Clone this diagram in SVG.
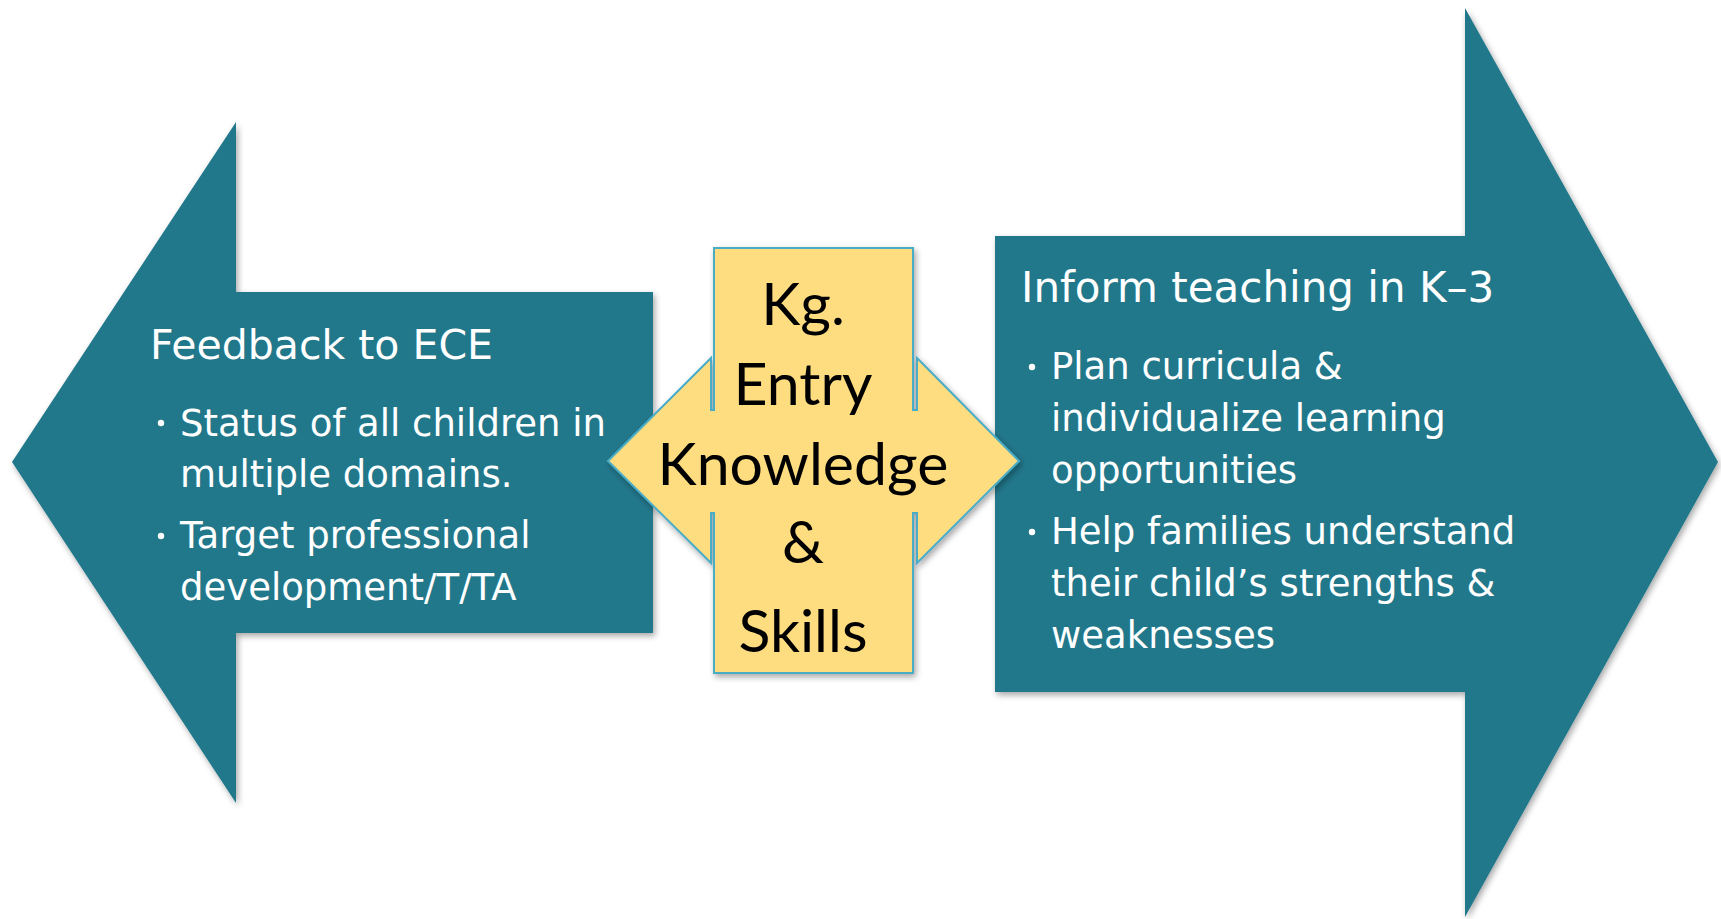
<svg xmlns="http://www.w3.org/2000/svg" width="1721" height="919" viewBox="0 0 1721 919">
  <defs>
    <filter id="shadow" x="-10%" y="-10%" width="120%" height="120%">
      <feDropShadow dx="2" dy="3" stdDeviation="3" flood-color="#000" flood-opacity="0.35"/>
    </filter>
    <style>
      .arrow { fill: #23788b; filter: url(#shadow); }
      .hub { fill: #fedd80; stroke: #4bacc6; stroke-width: 2; filter: url(#shadow); }
      .title { font-family: "DejaVu Sans", "Liberation Sans", sans-serif; font-size: 41px; fill: #ffffff; }
      .item { font-family: "DejaVu Sans", "Liberation Sans", sans-serif; font-size: 37px; fill: #ffffff; }
      .dot { fill: #ffffff; }
      .hubtext { font-family: Lato, "Liberation Sans", sans-serif; font-size: 59px; fill: #000000; text-anchor: middle; }
    </style>
  </defs>

  <rect width="1721" height="919" fill="#ffffff"/>

  <!-- left arrow: feedback to early childhood education -->
  <g id="feedback">
    <path class="arrow" d="M12,462 L236,122 L236,292 L653,292 L653,633 L236,633 L236,803 Z"/>
    <text class="title" x="150" y="359">Feedback to ECE</text>
    <circle class="dot" cx="161" cy="423" r="3.2"/>
    <text class="item" x="180" y="436">Status of all children in</text>
    <text class="item" x="180" y="487">multiple domains.</text>
    <circle class="dot" cx="161" cy="536" r="3.2"/>
    <text class="item" x="180" y="548">Target professional</text>
    <text class="item" x="180" y="600">development/T/TA</text>
  </g>

  <!-- right arrow: inform teaching in K-3 -->
  <g id="inform">
    <path class="arrow" d="M995,236 L1465,236 L1465,8 L1718,462 L1465,917 L1465,692 L995,692 Z"/>
    <text class="title" x="1021" y="302" style="font-size:42px">Inform teaching in K–3</text>
    <circle class="dot" cx="1032" cy="367" r="3.2"/>
    <text class="item" x="1051" y="379">Plan curricula &amp;</text>
    <text class="item" x="1051" y="431">individualize learning</text>
    <text class="item" x="1051" y="483">opportunities</text>
    <circle class="dot" cx="1032" cy="532" r="3.2"/>
    <text class="item" x="1051" y="544">Help families understand</text>
    <text class="item" x="1051" y="596">their child’s strengths &amp;</text>
    <text class="item" x="1051" y="648">weaknesses</text>
  </g>

  <!-- centre: left-right arrow callout -->
  <g id="entry">
    <path class="hub" d="M714,248 L913,248 L913,410 L917,410 L917,358 L1019,461 L917,563 L917,513 L913,513 L913,673 L714,673 L714,513 L711,513 L711,563 L608,461 L711,358 L711,410 L714,410 Z"/>
    <text class="hubtext" x="803" y="325">Kg.</text>
    <text class="hubtext" x="803" y="405">Entry</text>
    <text class="hubtext" x="803" y="485">Knowledge</text>
    <text class="hubtext" x="803" y="563">&amp;</text>
    <text class="hubtext" x="803" y="652">Skills</text>
  </g>
</svg>
